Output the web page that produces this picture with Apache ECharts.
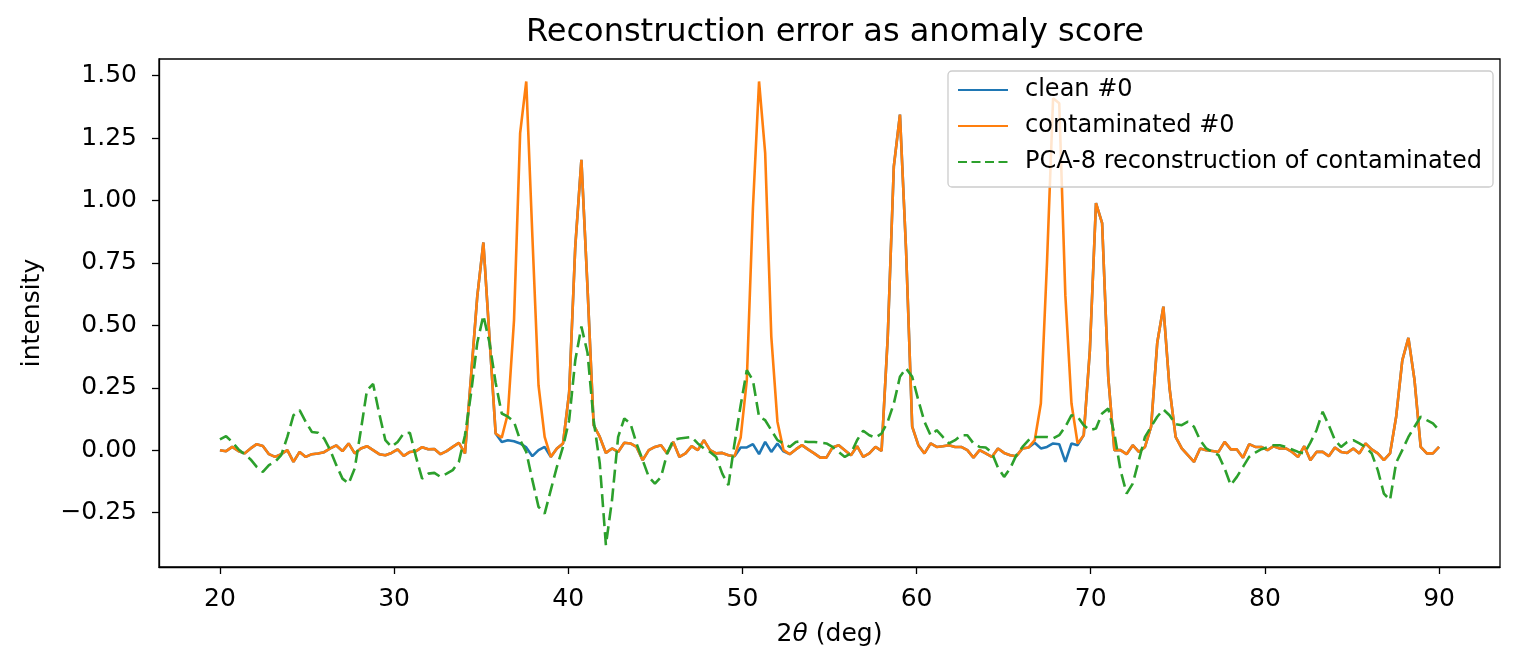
<!DOCTYPE html>
<html>
<head>
<meta charset="utf-8">
<title>Reconstruction error as anomaly score</title>
<script src="https://cdn.jsdelivr.net/npm/echarts@6.0.0/dist/echarts.min.js"></script>
<style>
  html, body { margin: 0; padding: 0; background: #fff; }
  #chart { width: 1522px; height: 670px; }
</style>
</head>
<body>
<div id="chart"></div>
<script>
// 2theta grid: 200 samples from 20 to 90 deg
const THETA_START = 20;
const THETA_STOP = 90;
const N_POINTS = 200;

const X_TICKS = [20, 30, 40, 50, 60, 70, 80, 90];
const Y_TICKS = [-0.25, 0, 0.25, 0.5, 0.75, 1.0, 1.25, 1.5];

const SERIES_NAMES = ["clean #0", "contaminated #0", "PCA-8 reconstruction of contaminated"];

const clean = [
  0.000, -0.004, 0.013, -0.003, -0.013, 0.007, 0.024, 0.017, -0.016, -0.027,
  -0.016, 0.000, -0.047, -0.007, -0.027, -0.016, -0.013, -0.008, 0.007, 0.019,
  -0.004, 0.027, -0.013, 0.007, 0.016, 0.000, -0.016, -0.020, -0.011, 0.003,
  -0.023, -0.007, -0.004, 0.012, 0.004, 0.005, -0.016, -0.004, 0.013, 0.029,
  -0.013, 0.300, 0.615, 0.832, 0.450, 0.067, 0.033, 0.040, 0.036, 0.027,
  0.011, -0.024, 0.000, 0.013, -0.027, 0.007, 0.027, 0.230, 0.816, 1.163,
  0.650, 0.100, 0.053, -0.011, 0.007, -0.007, 0.030, 0.027, 0.013, -0.040,
  0.000, 0.013, 0.020, -0.013, 0.033, -0.027, -0.013, 0.016, 0.000, 0.040,
  0.000, -0.013, -0.011, -0.020, -0.024, 0.011, 0.011, 0.024, -0.016, 0.033,
  -0.007, 0.027, -0.005, -0.016, 0.003, 0.020, 0.003, -0.013, -0.030, -0.030,
  0.011, 0.020, 0.000, -0.020, 0.016, -0.027, -0.013, 0.013, -0.003, 0.450,
  1.137, 1.344, 0.800, 0.094, 0.020, -0.013, 0.027, 0.013, 0.016, 0.020,
  0.013, 0.013, 0.000, -0.030, 0.000, -0.013, -0.027, 0.007, -0.011, -0.020,
  -0.024, 0.007, 0.011, 0.030, 0.007, 0.013, 0.027, 0.024, -0.047, 0.027,
  0.020, 0.060, 0.400, 0.990, 0.910, 0.294, 0.000, 0.000, -0.016, 0.020,
  -0.007, 0.013, 0.094, 0.430, 0.575, 0.250, 0.053, 0.007, -0.020, -0.047,
  0.007, 0.000, -0.003, -0.007, 0.033, 0.003, 0.003, -0.030, 0.024, 0.013,
  0.013, 0.000, 0.016, 0.007, 0.007, -0.007, -0.027, 0.016, -0.040, -0.007,
  -0.007, -0.024, 0.011, -0.007, -0.011, 0.007, -0.013, 0.027, 0.003, -0.013,
  -0.040, -0.013, 0.134, 0.360, 0.450, 0.280, 0.013, -0.013, -0.013, 0.013,
];

const contaminated = [
  0.000, -0.004, 0.013, -0.003, -0.013, 0.007, 0.024, 0.017, -0.016, -0.027,
  -0.016, 0.000, -0.047, -0.007, -0.027, -0.016, -0.013, -0.008, 0.007, 0.019,
  -0.004, 0.027, -0.013, 0.007, 0.016, 0.000, -0.016, -0.020, -0.011, 0.003,
  -0.023, -0.007, -0.004, 0.012, 0.004, 0.005, -0.016, -0.004, 0.013, 0.029,
  -0.013, 0.300, 0.615, 0.832, 0.450, 0.067, 0.050, 0.147, 0.520, 1.270,
  1.477, 0.856, 0.260, 0.053, -0.027, 0.007, 0.027, 0.230, 0.816, 1.163,
  0.650, 0.100, 0.053, -0.011, 0.007, -0.007, 0.030, 0.027, 0.013, -0.040,
  0.000, 0.013, 0.020, -0.013, 0.033, -0.027, -0.013, 0.016, 0.000, 0.040,
  0.000, -0.013, -0.011, -0.020, -0.024, 0.050, 0.280, 0.970, 1.477, 1.190,
  0.455, 0.114, 0.000, -0.016, 0.003, 0.020, 0.003, -0.013, -0.030, -0.030,
  0.011, 0.020, 0.000, -0.020, 0.016, -0.027, -0.013, 0.013, -0.003, 0.450,
  1.137, 1.344, 0.800, 0.094, 0.020, -0.013, 0.027, 0.013, 0.016, 0.020,
  0.013, 0.013, 0.000, -0.030, 0.000, -0.013, -0.027, 0.007, -0.011, -0.020,
  -0.024, 0.007, 0.011, 0.040, 0.187, 0.750, 1.410, 1.390, 0.620, 0.187,
  0.027, 0.060, 0.400, 0.990, 0.910, 0.294, 0.000, 0.000, -0.016, 0.020,
  -0.007, 0.013, 0.094, 0.430, 0.575, 0.250, 0.053, 0.007, -0.020, -0.047,
  0.007, 0.000, -0.003, -0.007, 0.033, 0.003, 0.003, -0.030, 0.024, 0.013,
  0.013, 0.000, 0.016, 0.007, 0.007, -0.007, -0.027, 0.016, -0.040, -0.007,
  -0.007, -0.024, 0.011, -0.007, -0.011, 0.007, -0.013, 0.027, 0.003, -0.013,
  -0.040, -0.013, 0.134, 0.360, 0.450, 0.280, 0.013, -0.013, -0.013, 0.013,
];

const pcaReconstruction = [
  0.043, 0.056, 0.033, 0.004, -0.016, -0.037, -0.067, -0.087, -0.060, -0.047,
  -0.020, 0.053, 0.140, 0.160, 0.114, 0.073, 0.070, 0.047, 0.000, -0.060,
  -0.114, -0.134, -0.073, 0.080, 0.240, 0.265, 0.147, 0.040, 0.013, 0.033,
  0.067, 0.070, -0.027, -0.114, -0.094, -0.091, -0.107, -0.094, -0.080, -0.047,
  0.060, 0.230, 0.430, 0.540, 0.430, 0.270, 0.147, 0.134, 0.114, 0.040,
  -0.007, -0.120, -0.227, -0.254, -0.160, -0.067, 0.013, 0.120, 0.360, 0.495,
  0.390, 0.120, -0.053, -0.380, -0.200, 0.053, 0.127, 0.107, 0.027, -0.040,
  -0.107, -0.134, -0.107, -0.013, 0.040, 0.047, 0.050, 0.053, 0.027, 0.007,
  -0.007, -0.027, -0.094, -0.140, 0.027, 0.180, 0.320, 0.280, 0.134, 0.120,
  0.080, 0.040, 0.027, 0.013, 0.033, 0.036, 0.033, 0.033, 0.030, 0.027,
  0.013, -0.007, -0.027, -0.013, 0.040, 0.078, 0.060, 0.050, 0.067, 0.114,
  0.187, 0.294, 0.328, 0.294, 0.200, 0.114, 0.060, 0.080, 0.053, 0.027,
  0.040, 0.060, 0.060, 0.027, 0.013, 0.011, -0.010, -0.070, -0.107, -0.073,
  -0.020, 0.013, 0.040, 0.053, 0.053, 0.053, 0.047, 0.060, 0.094, 0.140,
  0.134, 0.100, 0.080, 0.087, 0.147, 0.167, 0.067, -0.080, -0.174, -0.134,
  -0.040, 0.053, 0.094, 0.134, 0.163, 0.140, 0.104, 0.100, 0.114, 0.094,
  0.040, 0.007, -0.007, -0.020, -0.073, -0.140, -0.107, -0.067, -0.027, -0.010,
  0.004, 0.011, 0.020, 0.020, 0.013, 0.003, -0.007, -0.013, 0.030, 0.080,
  0.154, 0.100, 0.040, 0.013, 0.033, 0.040, 0.027, 0.013, -0.013, -0.080,
  -0.174, -0.200, -0.050, 0.000, 0.053, 0.094, 0.134, 0.120, 0.107, 0.080,
];

const FONT = "DejaVu Sans";
const COLORS = { clean: "#1f77b4", contaminated: "#ff7f0e", pca: "#2ca02c" };

const twoTheta = [];
for (let i = 0; i < N_POINTS; i++) {
  twoTheta.push(THETA_START + (i * (THETA_STOP - THETA_START)) / (N_POINTS - 1));
}

function pairs(values) {
  return values.map((v, i) => [twoTheta[i], v]);
}

function fmtY(v) {
  return v.toFixed(2).replace("-", "\u2212");
}

function lineSeries(name, values, color, type) {
  return {
    name,
    type: "line",
    data: pairs(values),
    symbol: "none",
    showSymbol: false,
    animation: false,
    lineStyle: { color, width: 2.6, type: type || "solid" },
    itemStyle: { color },
    emphasis: { disabled: true },
  };
}

const chart = echarts.init(document.getElementById("chart"), null, { renderer: "canvas" });

chart.setOption({
  backgroundColor: "#ffffff",
  animation: false,
  textStyle: { fontFamily: FONT, color: "#000" },
  title: {
    text: "Reconstruction error as anomaly score",
    left: 830,
    textAlign: "center",
    top: 12,
    textStyle: { fontFamily: FONT, fontSize: 32, fontWeight: "normal", color: "#000" },
  },
  grid: {
    left: 159,
    right: 22,
    top: 59,
    bottom: 103,
    show: true,
    borderColor: "#000",
    borderWidth: 1.3,
    backgroundColor: "transparent",
  },
  legend: {
    orient: "vertical",
    left: 948,
    top: 71,
    padding: [7, 11, 13, 9],
    itemWidth: 50,
    itemHeight: 14,
    itemGap: 12,
    backgroundColor: "rgba(255,255,255,0.8)",
    borderColor: "#cccccc",
    borderWidth: 1.3,
    borderRadius: 4,
    itemStyle: { opacity: 0 },
    textStyle: { fontFamily: FONT, fontSize: 24, color: "#000", lineHeight: 24, padding: [0, 0, 0, 12] },
    data: [
      { name: SERIES_NAMES[0] },
      { name: SERIES_NAMES[1] },
      { name: SERIES_NAMES[2], lineStyle: { type: [9, 4.5] } },
    ],
  },
  xAxis: {
    type: "value",
    min: 16.5,
    max: 93.5,
    name: "{n|2}{i|\u03b8}{n| (deg)}",
    nameLocation: "middle",
    nameGap: 55,
    nameTextStyle: {
      rich: {
        n: { fontFamily: FONT, fontSize: 25, color: "#000" },
        i: { fontFamily: FONT, fontSize: 25, fontStyle: "italic", color: "#000" },
      },
    },
    axisLine: { show: true, onZero: false, lineStyle: { color: "#000", width: 1.3 } },
    axisTick: { show: true, inside: false, length: 7, customValues: X_TICKS, lineStyle: { color: "#000", width: 1.3 } },
    axisLabel: { customValues: X_TICKS, fontFamily: FONT, fontSize: 25, color: "#000", margin: 20 },
    splitLine: { show: false },
  },
  yAxis: {
    type: "value",
    min: -0.468,
    max: 1.567,
    name: "intensity",
    nameLocation: "middle",
    nameGap: 114,
    nameRotate: 90,
    nameTextStyle: { fontFamily: FONT, fontSize: 25, color: "#000" },
    axisLine: { show: true, onZero: false, lineStyle: { color: "#000", width: 1.3 } },
    axisTick: { show: true, inside: false, length: 7, customValues: Y_TICKS, lineStyle: { color: "#000", width: 1.3 } },
    axisLabel: { customValues: Y_TICKS, fontFamily: FONT, fontSize: 25, color: "#000", margin: 22, formatter: fmtY },
    splitLine: { show: false },
  },
  series: [
    lineSeries(SERIES_NAMES[0], clean, COLORS.clean),
    lineSeries(SERIES_NAMES[1], contaminated, COLORS.contaminated),
    lineSeries(SERIES_NAMES[2], pcaReconstruction, COLORS.pca, [13, 6]),
  ],
});
</script>
</body>
</html>
